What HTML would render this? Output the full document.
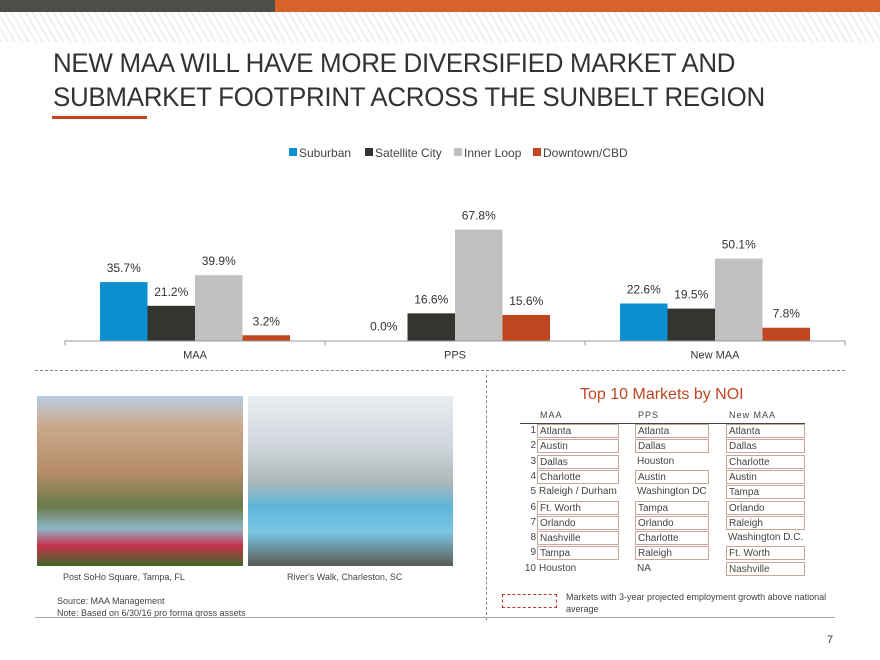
<!DOCTYPE html>
<html><head><meta charset="utf-8">
<style>
body{margin:0;width:880px;height:660px;overflow:hidden;background:#fff;font-family:"Liberation Sans",sans-serif;position:relative}
.abs{position:absolute}
.cell{position:absolute;font-size:10px;color:#444;height:14px;line-height:14px;padding-left:2px;box-sizing:border-box}
.box{border:1px solid #c9a49a}
</style></head><body>
<div class="abs" style="left:0;top:0;width:275px;height:12px;background:#4d4d4a"></div>
<div class="abs" style="left:275px;top:0;width:605px;height:12px;background:#d9622b"></div>
<div class="abs" style="left:0;top:12px;width:880px;height:30px;background:repeating-linear-gradient(60deg,#eee 0 2px,#fff 2px 6px),#f6f6f6;opacity:.9"></div>
<div class="abs" style="left:53px;top:46px;font-size:27px;line-height:34px;color:#333;transform:scaleX(.96);transform-origin:left;white-space:nowrap;letter-spacing:-.3px">NEW MAA WILL HAVE MORE DIVERSIFIED MARKET AND<br>SUBMARKET FOOTPRINT ACROSS THE SUNBELT REGION</div>
<div class="abs" style="left:52px;top:116px;width:95px;height:3px;background:#c0461f"></div>

<svg class="abs" style="left:0;top:0" width="880" height="380">
<g id="legend" font-size="12" fill="#444"></g>
<g id="bars"></g>
</svg>
<script>
const categories=["MAA","PPS","New MAA"];
const seriesNames=["Suburban","Satellite City","Inner Loop","Downtown/CBD"];
const suburban=[35.7,0.0,22.6];
const satellite=[21.2,16.6,19.5];
const innerLoop=[39.9,67.8,50.1];
const downtown=[3.2,15.6,7.8];
const colors=["#0a8fd1","#363430","#c0c0c0","#c0461f"];
const NS="http://www.w3.org/2000/svg";
const base=340.5,scale=1.636,g0=65,gw=260,bw=47.5;
const y=v=>base-v*scale;
const x=(ci,si)=>g0+ci*gw+35+si*bw;
const bars=document.getElementById('bars');
function mk(t,a,p){const e=document.createElementNS(NS,t);for(const k in a)e.setAttribute(k,a[k]);(p||bars).appendChild(e);return e;}
const series=[suburban,satellite,innerLoop,downtown];
series.forEach((s,si)=>s.forEach((v,ci)=>{
 const r=mk('rect',{x:x(ci,si),y:y(v),width:bw,height:v*scale,fill:colors[si]});
 
 
 const t=mk('text',{x:x(ci,si)+bw/2,y:y(v)-10,'text-anchor':'middle','font-size':12,fill:'#333'});
 t.textContent=v.toFixed(1)+'%';
 
 
}));
const ax=mk('line',{x1:g0,x2:g0+3*gw,y1:base+0.5,y2:base+0.5,stroke:'#999','stroke-width':1});


for(let i=0;i<=3;i++){mk('line',{x1:g0+i*gw,x2:g0+i*gw,y1:base,y2:base+5,stroke:'#999'});}
categories.forEach((c,i)=>{const t=mk('text',{x:g0+i*gw+gw/2,y:base+18,'text-anchor':'middle','font-size':11,fill:'#333'});t.textContent=c;

});
const lg=document.getElementById('legend');
const lx=[289,365,454,533];
seriesNames.forEach((n,i)=>{mk('rect',{x:lx[i],y:148,width:8,height:8,fill:colors[i]},lg);
const t=mk('text',{x:lx[i]+10,y:157},lg);t.textContent=n;

});
</script>

<div class="abs" style="left:35px;top:370px;width:810px;border-top:1px dashed #888"></div>
<div class="abs" style="left:486px;top:375px;height:245px;border-left:1px dashed #888"></div>

<div class="abs" style="left:37px;top:396px;width:206px;height:170px;background:linear-gradient(180deg,#b9cde0 0,#c9a98a 18%,#b48c68 45%,#6a7a4a 65%,#8fb7c9 78%,#c6324a 88%,#3d6a2a 100%)"></div>
<div class="abs" style="left:248px;top:396px;width:205px;height:170px;background:linear-gradient(180deg,#e9eef2 0,#cfd6dc 30%,#aeb9b8 50%,#5fb6d8 65%,#7cc6e4 80%,#5a5a52 100%)"></div>
<div class="abs" style="left:63px;top:572px;font-size:9px;color:#444">Post SoHo Square, Tampa, FL</div>
<div class="abs" style="left:287px;top:572px;font-size:9px;color:#444">River's Walk, Charleston, SC</div>
<div class="abs" style="left:57px;top:595px;font-size:9px;line-height:12px;color:#444">Source: MAA Management<br>Note: Based on 6/30/16 pro forma gross assets</div>
<div class="abs" style="left:35px;top:617px;width:800px;border-top:1px solid #aaa"></div>

<div class="abs" style="left:580px;top:386px;font-size:16px;color:#c0461f">Top 10 Markets by NOI</div>
<div class="abs" style="left:540px;top:410px;font-size:9px;color:#444;letter-spacing:1px;width:300px">
<span style="position:absolute;left:0">MAA</span><span style="position:absolute;left:98px">PPS</span><span style="position:absolute;left:189px">New MAA</span></div>
<div class="abs" style="left:520px;top:423px;width:285px;border-top:1px solid #444"></div>
<div id="tbl"></div>
<script>
const maaMk=["Atlanta","Austin","Dallas","Charlotte","Raleigh / Durham","Ft. Worth","Orlando","Nashville","Tampa","Houston"];
const ppsMk=["Atlanta","Dallas","Houston","Austin","Washington DC","Tampa","Orlando","Charlotte","Raleigh","NA"];
const newMk=["Atlanta","Dallas","Charlotte","Austin","Tampa","Orlando","Raleigh","Washington D.C.","Ft. Worth","Nashville"];
const maaBox=[1,1,1,1,0,1,1,1,1,0];
const ppsBox=[1,1,0,1,0,1,1,1,1,0];
const newBox=[1,1,1,1,1,1,1,0,1,1];
const tbl=document.getElementById('tbl');
function cell(l,w,top,txt,b){const d=document.createElement('div');d.className='cell'+(b?' box':'');d.style.left=l+'px';d.style.top=top+'px';d.style.width=w+'px';d.textContent=txt;


tbl.appendChild(d);}
for(let i=0;i<10;i++){const t=424+i*15.3;
 const n=document.createElement('div');n.className='cell';n.style.left='514px';n.style.width='22px';n.style.textAlign='right';n.style.top=t+'px';n.textContent=i+1;
 
 
 tbl.appendChild(n);
 cell(537,82,t,maaMk[i],maaBox[i]);cell(635,74,t,ppsMk[i],ppsBox[i]);cell(726,79,t,newMk[i],newBox[i]);}
</script>
<div class="abs" style="left:502px;top:594px;width:53px;height:12px;border:1px dashed #c0392b"></div>
<div class="abs" style="left:566px;top:591px;font-size:9px;line-height:12px;color:#444;width:280px">Markets with 3-year projected employment growth above national average</div>
<div class="abs" style="left:827px;top:634px;font-size:11px;color:#333">7</div>
</body></html>
